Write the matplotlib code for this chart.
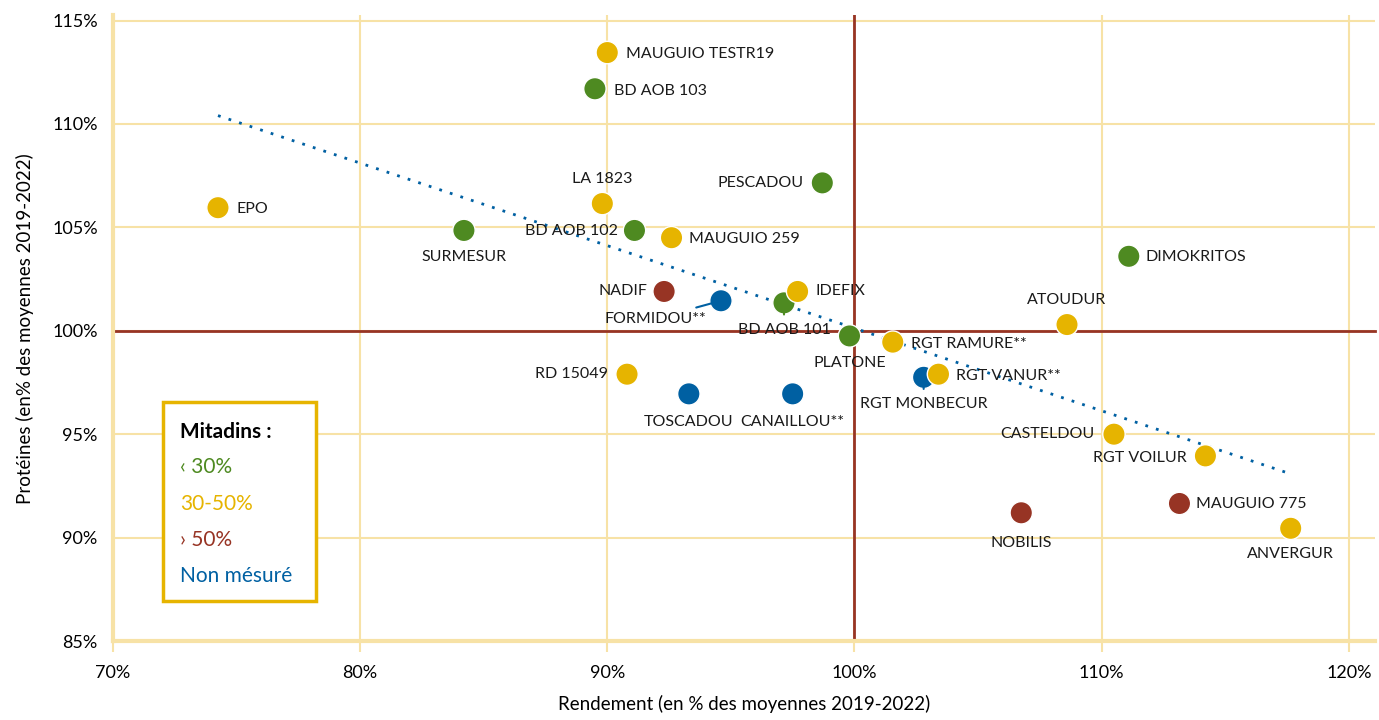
import numpy as np
import matplotlib.pyplot as plt
from matplotlib.patches import Rectangle

plt.rcParams['font.family'] = ['Lato', 'DejaVu Sans']

# --- data (% of 2019-2022 means) ---
varieties = ['MAUGUIO TESTR19', 'BD AOB 103', 'EPO', 'LA 1823', 'BD AOB 102', 'MAUGUIO 259',
             'PESCADOU', 'SURMESUR', 'DIMOKRITOS', 'NADIF', 'FORMIDOU**', 'BD AOB 101',
             'IDEFIX', 'PLATONE', 'ATOUDUR', 'RGT RAMURE**', 'RD 15049', 'TOSCADOU',
             'CANAILLOU**', 'RGT MONBECUR', 'RGT VANUR**', 'CASTELDOU', 'RGT VOILUR',
             'MAUGUIO 775', 'NOBILIS', 'ANVERGUR']
rendement = [90.0, 89.5, 74.25, 89.8, 91.1, 92.6,
             98.7, 84.2, 111.1, 92.3, 94.6, 97.15,
             97.7, 99.8, 108.6, 101.55, 90.8, 93.3,
             97.5, 102.8, 103.4, 110.5, 114.2,
             113.15, 106.75, 117.65]
proteines = [113.45, 111.7, 105.95, 106.15, 104.85, 104.5,
             107.15, 104.85, 103.6, 101.9, 101.45, 101.35,
             101.9, 99.75, 100.3, 99.45, 97.9, 96.95,
             96.95, 97.75, 97.9, 95.0, 93.95,
             91.65, 91.2, 90.45]
# mitadin class: 0 = < 30%, 1 = 30-50%, 2 = > 50%, 3 = non mesure
classe = [1, 0, 1, 1, 0, 1,
          0, 0, 0, 2, 3, 0,
          1, 0, 1, 1, 1, 3,
          3, 3, 1, 1, 1,
          2, 2, 1]
class_labels = ['‹ 30%', '30-50%', '› 50%', 'Non mésuré']

# label placement: (dx, dy) in pixels, horizontal alignment
label_pos = {
    'MAUGUIO TESTR19': (19, -1, 'left'), 'BD AOB 103': (19, -2, 'left'),
    'EPO': (19, -1, 'left'), 'LA 1823': (0, 25, 'center'),
    'BD AOB 102': (-16, -1, 'right'), 'MAUGUIO 259': (17, -1, 'left'),
    'PESCADOU': (-19, 0, 'right'), 'SURMESUR': (0, -27, 'center'),
    'DIMOKRITOS': (17, -1, 'left'), 'NADIF': (-17, 0, 'right'),
    'FORMIDOU**': (-15, -18, 'right'), 'BD AOB 101': (0, -27, 'center'),
    'IDEFIX': (18, 0, 'left'), 'PLATONE': (0, -27, 'center'),
    'ATOUDUR': (0, 25, 'center'), 'RGT RAMURE**': (18, -2, 'left'),
    'RD 15049': (-19, 0, 'right'), 'TOSCADOU': (0, -28, 'center'),
    'CANAILLOU**': (0, -28, 'center'), 'RGT MONBECUR': (0, -27, 'center'),
    'RGT VANUR**': (18, -2, 'left'), 'CASTELDOU': (-19, 0, 'right'),
    'RGT VOILUR': (-19, -2, 'right'), 'MAUGUIO 775': (17, -1, 'left'),
    'NOBILIS': (0, -30, 'center'), 'ANVERGUR': (0, -26, 'center'),
}
# labels moved away from their point, joined by a short leader line
leaders = ['FORMIDOU**', 'BD AOB 101', 'RGT MONBECUR']

colors = ['#4e8a21', '#e6b400', '#973424', '#0060a2']
grid_col = '#f7e2a6'
ref_col = '#973424'

fig = plt.figure(figsize=(13.79, 7.2), dpi=100)
ax = fig.add_axes([0.0819, 0.1097, 0.915, 0.869])

ax.set_xlim(70, 121.05)
ax.set_ylim(85, 115.25)
ax.set_xticks(np.arange(70, 121, 10))
ax.set_yticks(np.arange(85, 116, 5))
ax.set_xticklabels([f'{int(v)}%' for v in np.arange(70, 121, 10)])
ax.set_yticklabels([f'{int(v)}%' for v in np.arange(85, 116, 5)])
ax.set_axisbelow(True)
ax.grid(True, color=grid_col, linewidth=1.5)
ax.tick_params(axis='x', length=8, width=1.5, color=grid_col, labelsize=13, pad=9)
ax.tick_params(axis='y', length=0, labelsize=13, pad=11)
for s in ['top', 'right']:
    ax.spines[s].set_visible(False)
for s in ['left', 'bottom']:
    ax.spines[s].set_color(grid_col)
    ax.spines[s].set_linewidth(3)

# reference lines at 100 %
ax.plot([100, 100], [85, 115.25], color=ref_col, linewidth=2, zorder=2)
ax.axhline(100, color=ref_col, linewidth=2, zorder=2, clip_on=False)

# linear trend line over the data range
x = np.array(rendement)
y = np.array(proteines)
a, b = np.polyfit(x, y, 1)
xt = np.array([x.min(), x.max()])
ax.plot(xt, a * xt + b, linestyle=(0, (1, 3)), color='#0060a2', linewidth=2, zorder=2.5)

ax.scatter(x, y, s=260, c=[colors[c] for c in classe], edgecolors='white',
           linewidths=1, zorder=3)

for name, xv, yv, c in zip(varieties, rendement, proteines, classe):
    dx, dy, ha = label_pos[name]
    arrow = None
    if name in leaders:
        arrow = dict(arrowstyle='-', color=colors[c], lw=1.5, shrinkA=4, shrinkB=6)
    ax.annotate(name, (xv, yv), xytext=(dx, dy), textcoords='offset pixels',
                ha=ha, va='center', fontsize=11.5, color='#1a1a1a', zorder=4,
                arrowprops=arrow)

ax.set_xlabel('Rendement (en % des moyennes 2019-2022)', fontsize=13.5, labelpad=10)
ax.set_ylabel('Protéines (en% des moyennes 2019-2022)', fontsize=13.5, labelpad=13)

# legend box
fig.patches.append(Rectangle((163 / 1379, 1 - 601 / 720), 153 / 1379, 199 / 720,
                             transform=fig.transFigure, facecolor='white',
                             edgecolor='#e6b400', linewidth=2.5, zorder=5))
fig.text(180 / 1379, 1 - 432 / 720, 'Mitadins :', fontsize=15, fontweight='bold',
         va='center', ha='left', zorder=6)
for i, lab in enumerate(class_labels):
    fig.text(180 / 1379, 1 - (467 + i * 36.5) / 720, lab, fontsize=15, color=colors[i],
             va='center', ha='left', zorder=6)

fig.savefig('out.png', dpi=100)
